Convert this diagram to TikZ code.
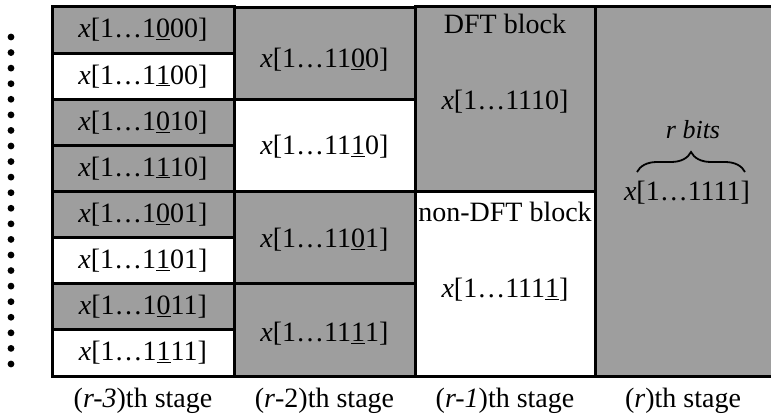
\documentclass[tikz,border=0pt]{standalone}
\usepackage{fontspec}
\setmainfont{Liberation Serif}
\usetikzlibrary{decorations.pathreplacing}
\definecolor{cellgray}{gray}{0.62}
\newcommand\ubit[1]{\underline{#1}}
\newcommand\xv{\textit{x}}
\begin{document}
\begin{tikzpicture}[x=1pt,y=-1pt,
  big/.style={font=\fontsize{28}{30}\selectfont},
  cellbox/.style={draw=black, line width=3pt, inner sep=0pt, big},
  g/.style={fill=cellgray},
  w/.style={fill=white},
  c1/.style={cellbox, minimum width=182pt, minimum height=46.125pt},
  c2/.style={cellbox, minimum width=181pt, minimum height=92.25pt},
  c3/.style={cellbox, minimum width=180pt, minimum height=184.5pt},
  txt/.style={inner sep=0pt, big},
  dot/.style={fill=black}]
\useasboundingbox (0,0) rectangle (771,420);
% column 4 background
\node[fill=cellgray, inner sep=0pt, minimum width=176pt, minimum height=369pt] (d1) at (683,191.5) {};
\draw[line width=3pt] (d1.north west) -- (d1.north east);
\draw[line width=3pt] (d1.south west) -- (d1.south east);
% column 1
\node[c1,g] (a1) at (143,30.06) {\xv[1\ldots1\ubit{0}00]};
\node[c1,w] (a2) at (143,76.19) {\xv[1\ldots1\ubit{1}00]};
\node[c1,g] (a3) at (143,122.31) {\xv[1\ldots1\ubit{0}10]};
\node[c1,g] (a4) at (143,168.44) {\xv[1\ldots1\ubit{1}10]};
\node[c1,g] (a5) at (143,214.56) {\xv[1\ldots1\ubit{0}01]};
\node[c1,w] (a6) at (143,260.69) {\xv[1\ldots1\ubit{1}01]};
\node[c1,g] (a7) at (143,306.81) {\xv[1\ldots1\ubit{0}11]};
\node[c1,w] (a8) at (143,352.94) {\xv[1\ldots1\ubit{1}11]};
% column 2
\node[c2,g] (b1) at (324.5,53.13) {};
\node[c2,w] (b2) at (324.5,145.38) {};
\node[c2,g] (b3) at (324.5,237.63) {};
\node[c2,g] (b4) at (324.5,329.88) {};
\node[txt] (bt1) at (324.5,60) {\xv[1\ldots11\ubit{0}0]};
\node[txt] (bt2) at (324.5,147) {\xv[1\ldots11\ubit{1}0]};
\node[txt] (bt3) at (324.5,240) {\xv[1\ldots11\ubit{0}1]};
\node[txt] (bt4) at (324.5,334) {\xv[1\ldots11\ubit{1}1]};
% column 3
\node[c3,g] (e1) at (505,99.25) {};
\node[c3,w] (e2) at (505,283.75) {};
\node[txt] (e1h) at (505,24) {DFT block};
\node[txt] (e1t) at (505,102) {\xv[1\ldots1110]};
\node[txt] (e2h) at (505,212) {non-DFT block};
\node[txt] (e2t) at (505,290) {\xv[1\ldots111\ubit{1}]};
% column 4 content
\node[txt, font=\fontsize{26}{28}\selectfont\itshape] (rb) at (693,130) {r bits};
\node[txt] (d1t) at (687,193) {\xv[1\ldots1111]};
\coordinate (brl) at (637,172);
\coordinate (brr) at (745,172);
\draw[line width=1.8pt, decorate, decoration={brace, amplitude=20pt}] (brl) -- (brr);
% dots
\foreach \i in {0,...,21} \fill[dot] (11,37+\i*15.57) circle (3.4pt);
% stage labels
\node[txt] (s1) at (143,401) {(\textit{r-3})th stage};
\node[txt] (s2) at (324.5,401) {(\textit{r}-2)th stage};
\node[txt] (s3) at (505,401) {(\textit{r-1})th stage};
\node[txt] (s4) at (683,401) {(\textit{r})th stage};
\end{tikzpicture}
\end{document}
